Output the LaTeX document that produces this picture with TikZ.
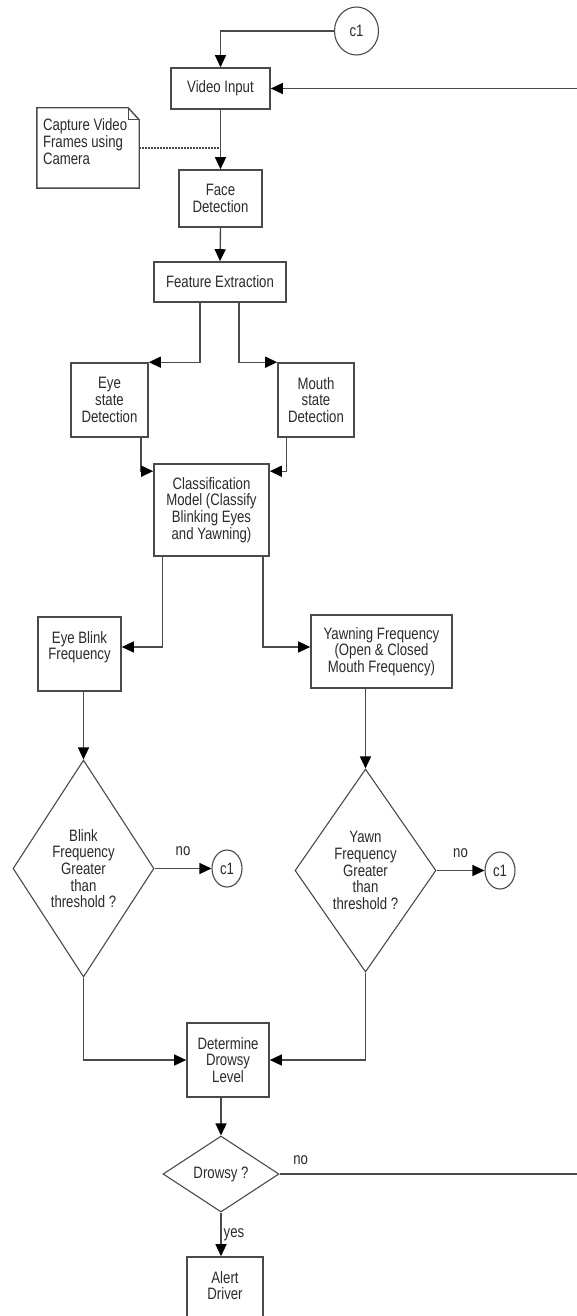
\documentclass[tikz,border=0pt]{standalone}
\usepackage{fontspec}
\setmainfont{Liberation Sans}[FakeStretch=0.8]
\usetikzlibrary{arrows.meta,shapes.geometric}
\definecolor{linegray}{HTML}{4A4A4A}
\definecolor{textgray}{HTML}{2A2A2A}
\begin{document}
\begin{tikzpicture}[x=1pt,y=-1pt,
  font=\fontsize{16.5}{16.7}\selectfont,
  every node/.style={text=textgray},
  box/.style={draw=linegray,line width=1.6pt,align=center,inner sep=2pt},
  decision/.style={diamond,draw=linegray,line width=1.1pt,align=center,inner sep=0pt},
  conn/.style={ellipse,draw=linegray,line width=1.1pt,inner sep=0pt},
  flow/.style={draw=linegray,line width=1.4pt,-{Triangle[length=12pt,width=11pt,color=black]}},
  lbl/.style={inner sep=2pt}]
\useasboundingbox (0,0) rectangle (577,1316);
\node[conn,minimum width=44pt,minimum height=48pt] (ctop) at (356.5,31) {c1};
\node[box,minimum width=99pt,minimum height=41pt] (video) at (220.5,88.5) {Video Input};
\node[inner sep=0pt,minimum width=102pt,minimum height=80pt] (note) at (88,148) {};
\draw[draw=linegray,line width=1.4pt] (note.north west) -- ([xshift=-11pt]note.north east) -- ([yshift=-12pt]note.north east) -- (note.south east) -- (note.south west) -- cycle;
\draw[draw=linegray,line width=1pt] ([xshift=-11pt]note.north east) -- ([xshift=-11pt,yshift=-12pt]note.north east) -- ([yshift=-12pt]note.north east);
\node[anchor=north west,align=left,inner sep=0pt] (notetext) at ([xshift=6pt,yshift=-11pt]note.north west) {Capture Video\\Frames using\\Camera};
\node[box,minimum width=83pt,minimum height=57pt] (face) at (220.5,198.5) {Face\\Detection};
\node[box,minimum width=132pt,minimum height=40pt] (feature) at (220,282) {Feature Extraction};
\node[box,minimum width=77pt,minimum height=74pt] (eye) at (109.5,400) {Eye\\state\\Detection};
\node[box,minimum width=76pt,minimum height=74pt] (mouth) at (316,400) {Mouth\\state\\Detection};
\node[box,minimum width=115pt,minimum height=92pt] (classif) at (211.5,510) {Classification\\Model (Classify\\Blinking Eyes\\and Yawning)};
\node[box,minimum width=83pt,minimum height=74pt] (blink) at (79.5,654) {Eye Blink\\Frequency\\\mbox{}};
\node[box,minimum width=141pt,minimum height=73pt] (yawning) at (381.5,651.5) {Yawning Frequency\\(Open \& Closed\\Mouth Frequency)};
\node[decision,aspect=0.65,minimum width=141pt,minimum height=217pt] (blinkq) at (83.5,868.5) {Blink\\Frequency\\Greater\\than\\threshold ?};
\node[conn,minimum width=30pt,minimum height=37pt] (ca) at (227,868.5) {c1};
\node[decision,aspect=0.69,minimum width=141pt,minimum height=203pt] (yawnq) at (365.5,870.5) {Yawn\\Frequency\\Greater\\than\\threshold ?};
\node[conn,minimum width=30pt,minimum height=37pt] (cb) at (500,870.5) {c1};
\node[box,minimum width=82pt,minimum height=74pt] (determine) at (228,1060) {Determine\\Drowsy\\Level};
\node[decision,aspect=1.53,minimum width=116pt,minimum height=76pt] (drowsy) at (221,1174) {Drowsy ?};
\node[box,minimum width=76pt,minimum height=74pt] (alert) at (225,1294) {Alert\\Driver\\\mbox{}};
\coordinate (loop) at (592,1174);
\draw[flow] (ctop.west) -| (video.north);
\draw[flow] (drowsy.east) node[lbl,anchor=south west,xshift=11pt,yshift=7pt] {no} -- (loop) |- (video.east);
\draw[flow] (video.south) -- (face.north);
\draw[draw=linegray,line width=1.4pt,dash pattern=on 1.5pt off 1.5pt] (note.east) -- (note.east -| video.south);
\draw[flow] (face.south) -- (feature.north);
\draw[flow] ([xshift=-20pt]feature.south) |- (eye.north east);
\draw[flow] ([xshift=19pt]feature.south) |- (mouth.north west);
\draw[flow] ([xshift=-8pt]eye.south east) |- ([yshift=-8pt]classif.north west);
\draw[flow] ([xshift=9pt]mouth.south west) |- ([yshift=-8pt]classif.north east);
\draw[flow] ([xshift=9pt]classif.south west) |- ([yshift=7pt]blink.east);
\draw[flow] ([xshift=-7pt]classif.south east) |- ([yshift=4.5pt]yawning.west);
\draw[flow] (blinkq.north |- blink.south) -- (blinkq.north);
\draw[flow] (yawnq.north |- yawning.south) -- (yawnq.north);
\draw[flow] (blinkq.east) -- node[lbl,above=10pt] {no} (ca.west);
\draw[flow] (yawnq.east) -- node[lbl,above=10pt] {no} (cb.west);
\draw[flow] (blinkq.south) |- (determine.west);
\draw[flow] (yawnq.south) |- (determine.east);
\draw[flow] (determine.south -| drowsy.north) -- (drowsy.north);
\draw[flow] (drowsy.south) -- node[lbl,right] {yes} (drowsy.south |- alert.north);
\end{tikzpicture}
\end{document}
